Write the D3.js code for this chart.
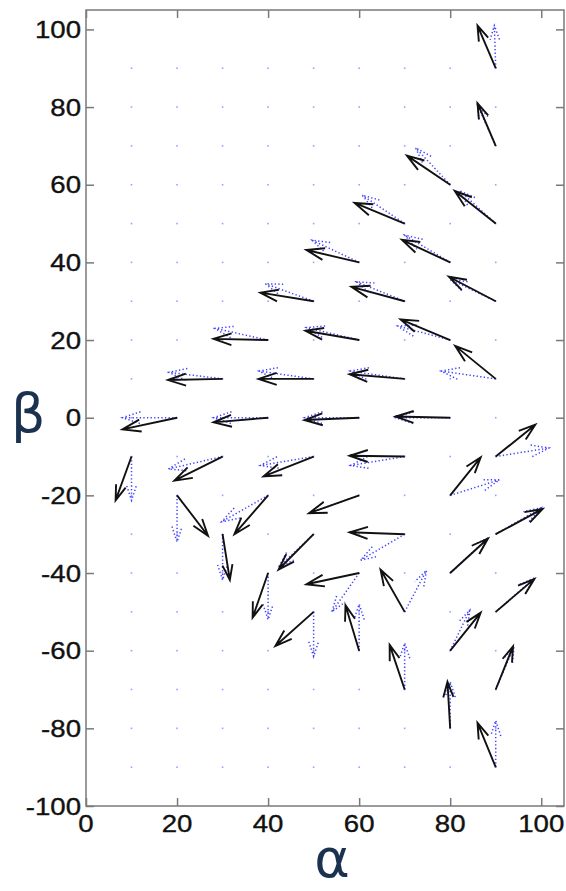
<!DOCTYPE html>
<html>
<head>
<meta charset="utf-8">
<script src="https://cdn.jsdelivr.net/npm/d3@7"></script>
<style>
  html, body { margin: 0; padding: 0; background: #fff; }
  svg { display: block; }
</style>
</head>
<body>
<svg id="chart" width="566" height="891"></svg>
<script>
// Grid origins of the vectors (α, β)
const alphaStart = [90, 90, 80, 70, 90, 60, 80, 50, 70, 90, 40, 60, 80, 30, 50, 70, 90,
  20, 40, 60, 80, 10, 30, 50, 70, 90, 20, 40, 60, 80, 30, 50, 70, 90, 40, 60, 80,
  50, 70, 90, 60, 80, 70, 90, 80, 90];
const betaStart = [90, 70, 60, 50, 50, 40, 40, 30, 30, 30, 20, 20, 20, 10, 10, 10, 10,
  0, 0, 0, 0, -10, -10, -10, -10, -10, -20, -20, -20, -20, -30, -30, -30, -30, -40, -40, -40,
  -50, -50, -50, -60, -60, -70, -70, -80, -90];

// Measured vectors (solid black arrows)
const uMeasured = [-4, -4, -9.5, -11, -9, -11.6, -10.6, -11.7, -11.7, -10.3, -12, -11.8, -10.9, -12, -12.1, -12.1, -8.9,
  -12, -12, -12, -12, -3.5, -10.6, -11, -12.1, 8.7, 6.8, -7.4, -11, 6.7, 1.6, -7.7, -12.1, 10.3, -3.4, -11.6, 8.3,
  -8.4, -5.3, 8.5, -3, 6.7, -3.3, 3.8, -0.6, -4];
const vMeasured = [11, 11, 7.5, 5.3, 8.4, 3.2, 5.8, 2.2, 3.7, 6.3, 0.3, 2.4, 5.3, -0.3, 0, 1.2, 8.5,
  -3, -1.2, -0.6, 0.3, -11.3, -6.2, -5.1, 0.2, 8.2, -10.4, -10, -4.6, 9.8, -11.8, -9.1, 0.5, 6.5, -11.5, -2.9, 8.9,
  -8.8, 10.9, 8.5, 11.7, 9.8, 11.5, 11.1, 12, 11.4];

// Model vectors (dotted blue arrows)
const uModel = [-0.3, -4, -7.6, -9.3, -8, -10.3, -10, -10.6, -10.6, -10, -11.7, -11.6, -11.5, -11.8, -12, -12, -12,
  -12, -12, -12, -12, 0, -11.9, -11.7, -11.9, 11.7, 0, -10.2, -11, 10.8, 0, -7.7, -9.7, 10, 0, -6, 8.3,
  0, 4.8, 8.5, 0, 4.3, 0, 4, 0, 0];
const vModel = [11, 10.5, 9.5, 7.3, 8.5, 5.7, 7, 4.5, 5, 5.6, 3, 3.2, 3.6, 1.7, 2, 2, 2,
  0, 0, 0, 0, -11.3, -3.2, -2.3, -2.3, 2.2, -12, -6.8, -4.6, 4, -11.8, -8.5, -6.7, 6.8, -12, -10, 9,
  -11.5, 10.7, 8.7, 12, 10.4, 12, 11, 12, 12];

// Sampling lattice and tick labels
const latticeAlpha = [10, 20, 30, 40, 50, 60, 70, 80, 90];
const latticeBeta = [-90, -80, -70, -60, -50, -40, -30, -20, -10, 0, 10, 20, 30, 40, 50, 60, 70, 80, 90];
const xTicks = [0, 20, 40, 60, 80, 100];
const yTicks = [-100, -80, -60, -40, -20, 0, 20, 40, 60, 80, 100];

const svg = d3.select("#chart");
const plotLeft = 86, plotRight = 564, plotTop = 10, plotBottom = 806;

const x = d3.scaleLinear().domain([0, 105]).range([plotLeft, plotRight]);
const y = d3.scaleLinear().domain([-100, 105]).range([plotBottom, plotTop]);

// Frame with inward ticks on all four sides
const frameColor = "#7a7a7a";
const tickLen = 8;
const axisG = svg.append("g");
axisG.append("rect")
  .attr("x", plotLeft).attr("y", plotTop)
  .attr("width", plotRight - plotLeft).attr("height", plotBottom - plotTop)
  .attr("fill", "none").attr("stroke", frameColor).attr("stroke-width", 1.5);

const bottomAxis = d3.axisBottom(x).tickValues(xTicks).tickSize(-tickLen).tickFormat("");
const topAxis = d3.axisTop(x).tickValues(xTicks).tickSize(-tickLen).tickFormat("");
const leftAxis = d3.axisLeft(y).tickValues(yTicks).tickSize(-tickLen).tickFormat("");
const rightAxis = d3.axisRight(y).tickValues(yTicks).tickSize(-tickLen).tickFormat("");

[[bottomAxis, `translate(0,${plotBottom})`], [topAxis, `translate(0,${plotTop})`],
 [leftAxis, `translate(${plotLeft},0)`], [rightAxis, `translate(${plotRight},0)`]].forEach(([ax, tr]) => {
  const g = axisG.append("g").attr("transform", tr).call(ax);
  g.select(".domain").remove();
  g.selectAll(".tick line").attr("stroke", frameColor).attr("stroke-width", 1.5);
});

// Tick labels
const labelFont = "'Liberation Sans', Arial, sans-serif";
const stretch = 1.15;
svg.append("g").selectAll("text").data(xTicks).join("text")
  .attr("transform", d => `translate(${x(d)},${plotBottom + 26}) scale(${stretch},1)`)
  .attr("text-anchor", "middle")
  .attr("font-family", labelFont).attr("font-size", 24).attr("fill", "#111")
  .attr("stroke", "#111").attr("stroke-width", 0.35)
  .text(d => d);
svg.append("g").selectAll("text").data(yTicks).join("text")
  .attr("transform", d => `translate(${plotLeft - 5},${y(d) + 8.5}) scale(${stretch},1)`)
  .attr("text-anchor", "end")
  .attr("font-family", labelFont).attr("font-size", 24).attr("fill", "#111")
  .attr("stroke", "#111").attr("stroke-width", 0.35)
  .text(d => d);

// Axis titles
const titleFont = "'DejaVu Sans', 'Open Sans', sans-serif";
svg.append("text")
  .attr("x", 332).attr("y", 877)
  .attr("text-anchor", "middle")
  .attr("font-family", titleFont)
  .attr("font-size", 54).attr("fill", "#1b3150")
  .text("α");
svg.append("text")
  .attr("x", 11).attr("y", 432)
  .attr("font-family", titleFont)
  .attr("font-size", 54).attr("fill", "#1b3150")
  .text("β");

// Lattice points (zero-length model vectors)
const lattice = latticeAlpha.flatMap(a => latticeBeta.map(b => [a, b]));
svg.append("g").selectAll("rect").data(lattice).join("rect")
  .attr("x", d => x(d[0]) - 0.8).attr("y", d => y(d[1]) - 0.8)
  .attr("width", 1.6).attr("height", 1.6)
  .attr("fill", "#9aa0ff");

// Quiver arrow path: shaft plus open head (head legs 0.33 of length, spread 0.33)
function arrowPath(a, b, u, v) {
  const x0 = x(a), y0 = y(b);
  const x1 = x(a + u), y1 = y(b + v);
  const du = x1 - x0, dv = y1 - y0;
  const al = 0.33, be = 0.33;
  const h1x = x1 - al * (du + be * dv), h1y = y1 - al * (dv - be * du);
  const h2x = x1 - al * (du - be * dv), h2y = y1 - al * (dv + be * du);
  return `M${x0},${y0}L${x1},${y1}M${h1x},${h1y}L${x1},${y1}L${h2x},${h2y}`;
}

const vectors = alphaStart.map((a, i) => ({
  a, b: betaStart[i], u: uMeasured[i], v: vMeasured[i], um: uModel[i], vm: vModel[i]
}));

// Dotted model arrows
svg.append("g").selectAll("path").data(vectors).join("path")
  .attr("d", d => arrowPath(d.a, d.b, d.um, d.vm))
  .attr("fill", "none")
  .attr("stroke", "#2b2bff")
  .attr("stroke-width", 1.5)
  .attr("stroke-dasharray", "1.3,2.3")
  .attr("opacity", 0.9);

// Solid measured arrows
svg.append("g").selectAll("path").data(vectors).join("path")
  .attr("d", d => arrowPath(d.a, d.b, d.u, d.v))
  .attr("fill", "none")
  .attr("stroke", "#111")
  .attr("stroke-width", 1.9)
  .attr("stroke-linejoin", "miter")
  .attr("stroke-linecap", "butt");
</script>
</body>
</html>
